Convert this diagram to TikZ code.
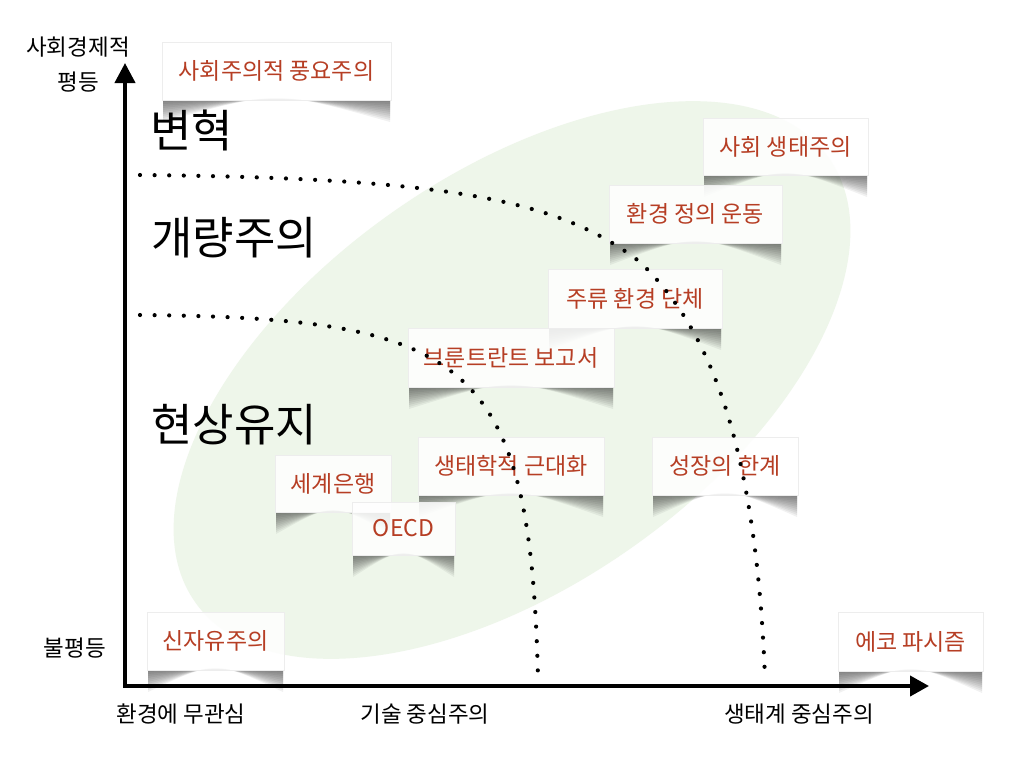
\documentclass[tikz,border=0pt]{standalone}
\usepackage{fontspec}
\setmainfont{Noto Sans CJK KR}
\usetikzlibrary{arrows.meta}
\definecolor{boxred}{RGB}{182,62,36}
\definecolor{ellgreen}{RGB}{238,246,234}
\newcommand{\pbox}[6]{%
  \foreach \d in {2,4,...,22}{%
    \fill[black,opacity=0.055] ({#2-#4/2+1},{#3+#5/2}) -- ({#2-#4/2+1},{#3+#5/2+\d})
      .. controls ({#2},{#3+#5/2-0.45*\d}) .. ({#2+#4/2-1},{#3+#5/2+\d}) -- ({#2+#4/2-1},{#3+#5/2}) -- cycle;}
  \node[pbx, minimum width=#4pt, minimum height=#5pt] (#1) at (#2,#3) {#6};
}
\begin{document}
\begin{tikzpicture}[x=1pt,y=-1pt,
  pbx/.style={inner sep=0pt, fill=white, fill opacity=0.85, text opacity=1, draw=black!7, line width=0.6pt,
    text=boxred, font=\fontsize{23}{26}\selectfont},
  biglabel/.style={anchor=west, inner sep=0pt, font=\fontsize{45}{50}\selectfont},
  axlabel/.style={inner sep=0pt, font=\fontsize{22.5}{26}\selectfont},
  axisline/.style={line width=4pt, {Triangle[length=20pt,width=20pt]}-{Triangle[length=19pt,width=20pt]}},
  dotline/.style={line width=4.2pt, line cap=round, dash pattern=on 0pt off 14.6pt}]
\useasboundingbox (0,0) rectangle (1024,768);
\fill[white] (0,0) rectangle (1024,768);
% green ellipse
\fill[ellgreen, rotate around={35:(512,380)}] (512,380) ellipse [x radius=387, y radius=206];
% axes
\coordinate (O) at (125,686);
\coordinate (Y) at (125,63);
\coordinate (X) at (929,686);
\draw[axisline] (Y) -- (O) -- (X);
% axis labels
\node[axlabel] (t1) at (78,47) {사회경제적};
\node[axlabel] (t2) at (78,82) {평등};
\node[axlabel] (t3) at (75,648) {불평등};
\node[axlabel] (t4) at (181,714) {환경에 무관심};
\node[axlabel] (t5) at (425,714) {기술 중심주의};
\node[axlabel] (t6) at (799,714) {생태계 중심주의};
% region labels
\node[biglabel] (r1) at (150,130) {변혁};
\node[biglabel] (r2) at (151,238) {개량주의};
\node[biglabel] (r3) at (151,425) {현상유지};
% boxes
\pbox{sf}{276.5}{71}{229}{58}{사회주의적 풍요주의}
\pbox{se}{785.5}{146.5}{165}{57}{사회 생태주의}
\pbox{ej}{695.5}{214}{173}{58}{환경 정의 운동}
\pbox{mg}{635}{298.5}{174}{59}{주류 환경 단체}
\pbox{br}{511}{357.5}{206}{59}{브룬트란트 보고서}
\pbox{em}{511}{466}{186}{58}{생태학적 근대화}
\pbox{lg}{725}{466}{146}{58}{성장의 한계}
\pbox{wb}{333}{483.5}{116}{57}{세계은행}
\pbox{oecd}{403.5}{528.5}{103}{53}{OECD}
\pbox{nl}{215.5}{641}{137}{58}{신자유주의}
\pbox{ef}{910.5}{641.5}{145}{59}{에코 파시즘}
% dotted boundaries
\coordinate (u0) at (140,175);
\coordinate (u1) at (640,262);
\coordinate (u2) at (765,678);
\draw[dotline] (u0) .. controls (450,178) and (560,200) .. (u1) .. controls (700,320) and (755,420) .. (u2);
\coordinate (l0) at (140,315);
\coordinate (l1) at (538,678);
\draw[dotline] (l0) .. controls (470,318) and (530,360) .. (l1);
\end{tikzpicture}
\end{document}
